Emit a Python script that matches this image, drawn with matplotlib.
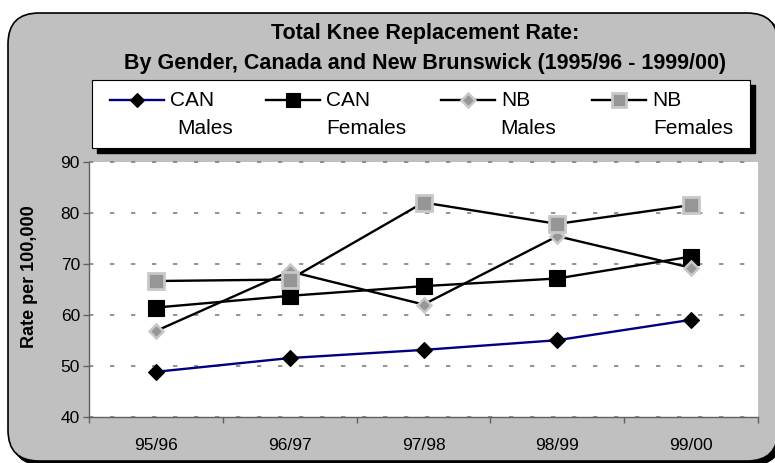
import matplotlib
matplotlib.use("Agg")
import matplotlib.pyplot as plt
from matplotlib.patches import FancyBboxPatch, Rectangle
from matplotlib.lines import Line2D
from matplotlib.ticker import FixedLocator

plt.rcParams['font.family'] = ['Liberation Sans', 'DejaVu Sans']

# --- data -------------------------------------------------------------
years = ["95/96", "96/97", "97/98", "98/99", "99/00"]
can_males = [48.8, 51.5, 53.1, 55.0, 59.0]
can_females = [61.4, 63.7, 65.6, 67.1, 71.4]
nb_males = [56.8, 68.5, 62.0, 75.4, 69.2]
nb_females = [66.6, 66.9, 82.0, 77.8, 81.5]
series_names = ["CAN\nMales", "CAN\nFemales", "NB\nMales", "NB\nFemales"]
y_ticks = [40, 50, 60, 70, 80, 90]

W, H = 775, 463
fig = plt.figure(figsize=(W / 100, H / 100), dpi=100)
fig.patch.set_facecolor("white")


def fx(px):
    return px / W


def fy(py):
    return 1 - py / H


# chart frame: grey rounded panel with a dark drop shadow
shadow = FancyBboxPatch((fx(12), fy(465)), fx(770), fy(17) - fy(465),
                        boxstyle="round,pad=0,rounding_size=0.04",
                        mutation_aspect=W / H,
                        transform=fig.transFigure, facecolor="black",
                        edgecolor="black", lw=1.2, zorder=0)
panel = FancyBboxPatch((fx(8), fy(461)), fx(770), fy(13) - fy(461),
                       boxstyle="round,pad=0,rounding_size=0.04",
                       mutation_aspect=W / H,
                       transform=fig.transFigure, facecolor="#c0c0c0",
                       edgecolor="black", lw=1.2, zorder=0.1)
fig.add_artist(shadow)
fig.add_artist(panel)

# title
fig.text(fx(425), fy(33), "Total Knee Replacement Rate:", ha="center",
         va="center", fontsize=15.5, fontweight="bold")
fig.text(fx(425), fy(64),
         "By Gender, Canada and New Brunswick (1995/96 - 1999/00)",
         ha="center", va="center", fontsize=15.5, fontweight="bold")

# --- plot area --------------------------------------------------------
ax = fig.add_axes([fx(89), fy(416.7), fx(758) - fx(89), fy(161.7) - fy(416.7)])
ax.set_facecolor("white")
ax.set_zorder(1)

x = list(range(len(years)))
styles = [
    dict(color="#000080", lw=1.7, marker="D", ms=8.4, mfc="black",
         mec="black", mew=0.8),
    dict(color="black", lw=1.7, marker="s", ms=11.0, mfc="black",
         mec="black", mew=0.8),
    dict(color="black", lw=1.7, marker="D", ms=7.6, mfc="#969696",
         mec="#c8c8c8", mew=1.8),
    dict(color="black", lw=1.7, marker="s", ms=11.2, mfc="#969696",
         mec="#c8c8c8", mew=2.0),
]
all_series = [can_males, can_females, nb_males, nb_females]
for vals, st in zip(all_series, styles):
    ax.plot(x, vals, zorder=3, clip_on=False, **st)

ax.set_xlim(-0.5, len(years) - 0.5)
ax.set_ylim(40, 90)
ax.set_yticks(y_ticks)
ax.set_xticks(x)
ax.set_xticklabels(years)
ax.xaxis.set_minor_locator(FixedLocator([i - 0.5 for i in range(len(years) + 1)]))

for side in ("top", "right"):
    ax.spines[side].set_visible(False)
for side in ("left", "bottom"):
    ax.spines[side].set_color("#606060")
    ax.spines[side].set_linewidth(1.0)

ax.tick_params(axis="x", which="major", length=0, pad=15, labelsize=12.5)
ax.tick_params(axis="x", which="minor", length=4.5, width=1.0,
               color="#606060", direction="out")
ax.tick_params(axis="y", which="major", length=4.5, width=1.0,
               color="#606060", direction="out", pad=2, labelsize=12.5)

ax.yaxis.grid(True, color="#808080", lw=1.2, dashes=(2.6, 10.0))
ax.set_axisbelow(True)
for gl in ax.get_ygridlines():
    gl.set_clip_on(False)

fig.text(fx(29), fy(277), "Rate per 100,000", rotation=90, ha="center",
         va="center", fontsize=13, fontweight="bold")

# --- legend box -------------------------------------------------------
fig.add_artist(Rectangle((fx(97), fy(153)), fx(658) - fx(0), fy(80) - fy(148),
                         transform=fig.transFigure, facecolor="black",
                         edgecolor="black", zorder=2))
fig.add_artist(Rectangle((fx(92), fy(148)), fx(658) - fx(0), fy(80) - fy(148),
                         transform=fig.transFigure, facecolor="white",
                         edgecolor="black", lw=0.8, zorder=2.1))

marker_x = [137, 293, 468, 619]
second_indent = [7, 0, -1, 1]
for name, st, mx, ind in zip(series_names, styles, marker_x, second_indent):
    fig.add_artist(Line2D([fx(mx - 27), fx(mx + 27)], [fy(100), fy(100)],
                          transform=fig.transFigure, color=st["color"],
                          lw=st["lw"], zorder=2.2))
    fig.add_artist(Line2D([fx(mx)], [fy(100)], transform=fig.transFigure,
                          linestyle="none", marker=st["marker"],
                          ms=st["ms"] * 0.9, mfc=st["mfc"], mec=st["mec"],
                          mew=st["mew"], zorder=2.3))
    first, second = name.split("\n")
    fig.text(fx(mx + 33), fy(100), first, ha="left", va="center",
             fontsize=15, zorder=2.3)
    fig.text(fx(mx + 33 + ind), fy(128), second, ha="left", va="center",
             fontsize=15, zorder=2.3)

fig.savefig("out.png", dpi=100)
